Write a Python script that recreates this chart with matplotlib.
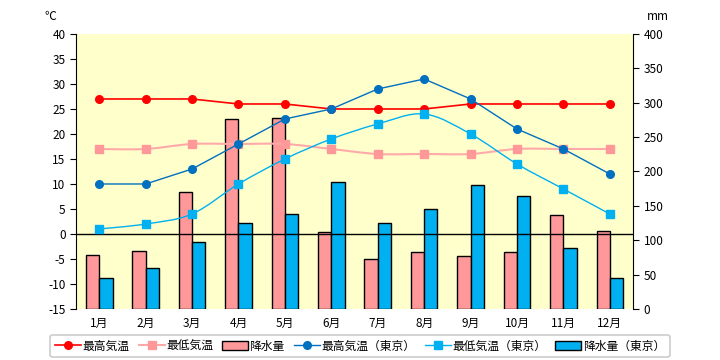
import numpy as np
import matplotlib
matplotlib.use("Agg")
import matplotlib.pyplot as plt
from matplotlib.path import Path
from matplotlib.patches import PathPatch, Patch
from matplotlib.lines import Line2D

plt.rcParams['font.family'] = ['Noto Sans CJK JP', 'DejaVu Sans']
plt.rcParams['axes.unicode_minus'] = False

months = ["1月", "2月", "3月", "4月", "5月", "6月", "7月", "8月", "9月", "10月", "11月", "12月"]
max_temp = [27, 27, 27, 26, 26, 25, 25, 25, 26, 26, 26, 26]
min_temp = [17, 17, 18, 18, 18, 17, 16, 16, 16, 17, 17, 17]
rain = [78, 84, 170, 277, 278, 112, 72, 83, 77, 83, 137, 114]
tokyo_max = [10, 10, 13, 18, 23, 25, 29, 31, 27, 21, 17, 12]
tokyo_min = [1, 2, 4, 10, 15, 19, 22, 24, 20, 14, 9, 4]
tokyo_rain = [45, 59, 98, 125, 138, 184, 125, 146, 180, 164, 88, 45]

RED = "#FF0000"
PINK = "#FF9999"
PINK_LINE = "#FFAAAA"
DBLUE = "#0070C0"
LBLUE = "#00B0F0"
BG = "#FFFFCC"


def smooth_path(x, y):
    # excel風のスムージング線（ベジェ）
    n = len(x)
    verts = [(x[0], y[0])]
    codes = [Path.MOVETO]
    for i in range(n - 1):
        a = i - 1 if i > 0 else i
        b = i + 2 if i + 2 < n else i + 1
        c1 = (x[i] + (x[i + 1] - x[a]) / 6, y[i] + (y[i + 1] - y[a]) / 6)
        c2 = (x[i + 1] - (x[b] - x[i]) / 6, y[i + 1] - (y[b] - y[i]) / 6)
        verts += [c1, c2, (x[i + 1], y[i + 1])]
        codes += [Path.CURVE4] * 3
    return Path(verts, codes)


fig = plt.figure(figsize=(7.2, 3.6), dpi=100)
ax = fig.add_axes([0.1056, 0.1417, 0.7736, 0.7639])
ax2 = ax.twinx()
ax.set_zorder(ax2.get_zorder() + 1)
ax.patch.set_visible(False)
ax2.patch.set_visible(True)
ax2.patch.set_facecolor(BG)

x = np.arange(len(months))
w = 0.286
ax2.bar(x - w / 2, rain, w, color=PINK, edgecolor="black", linewidth=1)
ax2.bar(x + w / 2, tokyo_rain, w, color=LBLUE, edgecolor="black", linewidth=1)
ax2.set_ylim(0, 400)
ax2.set_yticks(range(0, 401, 50))

ax.axhline(0, color="black", linewidth=1)

ax.plot(x, max_temp, color=RED, linewidth=1.2, marker="o", markersize=5.5)
ax.add_patch(PathPatch(smooth_path(x, min_temp), fill=False, edgecolor=PINK_LINE, linewidth=1.5))
ax.plot(x, min_temp, linestyle="none", marker="s", markersize=5.5, color=PINK)
ax.plot(x, tokyo_max, color=DBLUE, linewidth=1, marker="o", markersize=5.5)
ax.add_patch(PathPatch(smooth_path(x, tokyo_min), fill=False, edgecolor=LBLUE, linewidth=1))
ax.plot(x, tokyo_min, linestyle="none", marker="s", markersize=5.5, color=LBLUE)

ax.set_xlim(-0.5, len(months) - 0.5)
ax.set_ylim(-15, 40)
ax.set_yticks(range(-15, 41, 5))
ax.set_xticks(x)
ax.set_xticklabels(months)

for a in (ax, ax2):
    for s in ("top", "bottom", "left", "right"):
        a.spines[s].set_visible(False)
ax.spines["left"].set_visible(True)
ax2.spines["right"].set_visible(True)
ax.tick_params(axis="x", length=0, pad=6, labelsize=8.5)
ax.tick_params(axis="y", direction="out", length=4, labelsize=8.5)
ax2.tick_params(axis="y", direction="out", length=4, labelsize=8.5)

fig.text(50 / 720, 1 - 16 / 360, "℃", ha="center", va="center", fontsize=8.5)
fig.text(658 / 720, 1 - 16 / 360, "mm", ha="center", va="center", fontsize=8.5)

handles = [
    Line2D([], [], color=RED, linewidth=1.2, marker="o", markersize=5.5),
    Line2D([], [], color=PINK_LINE, linewidth=1.5, marker="s", markersize=5.5, markerfacecolor=PINK, markeredgecolor=PINK),
    Patch(facecolor=PINK, edgecolor="black"),
    Line2D([], [], color=DBLUE, linewidth=1, marker="o", markersize=5.5),
    Line2D([], [], color=LBLUE, linewidth=1, marker="s", markersize=5.5),
    Patch(facecolor=LBLUE, edgecolor="black"),
]
labels = ["最高気温", "最低気温", "降水量", "最高気温（東京）", "最低気温（東京）", "降水量（東京）"]
leg = fig.legend(handles, labels, loc="center", bbox_to_anchor=(360 / 720, 1 - 346 / 360),
                 ncol=6, fontsize=8.5, frameon=True, fancybox=True, handlelength=2.2,
                 handletextpad=0.1, columnspacing=0.8, borderpad=0.4)
leg.get_frame().set_edgecolor("#C0C0C0")
leg.get_frame().set_linewidth(1.2)

fig.savefig("out.png", dpi=100)
